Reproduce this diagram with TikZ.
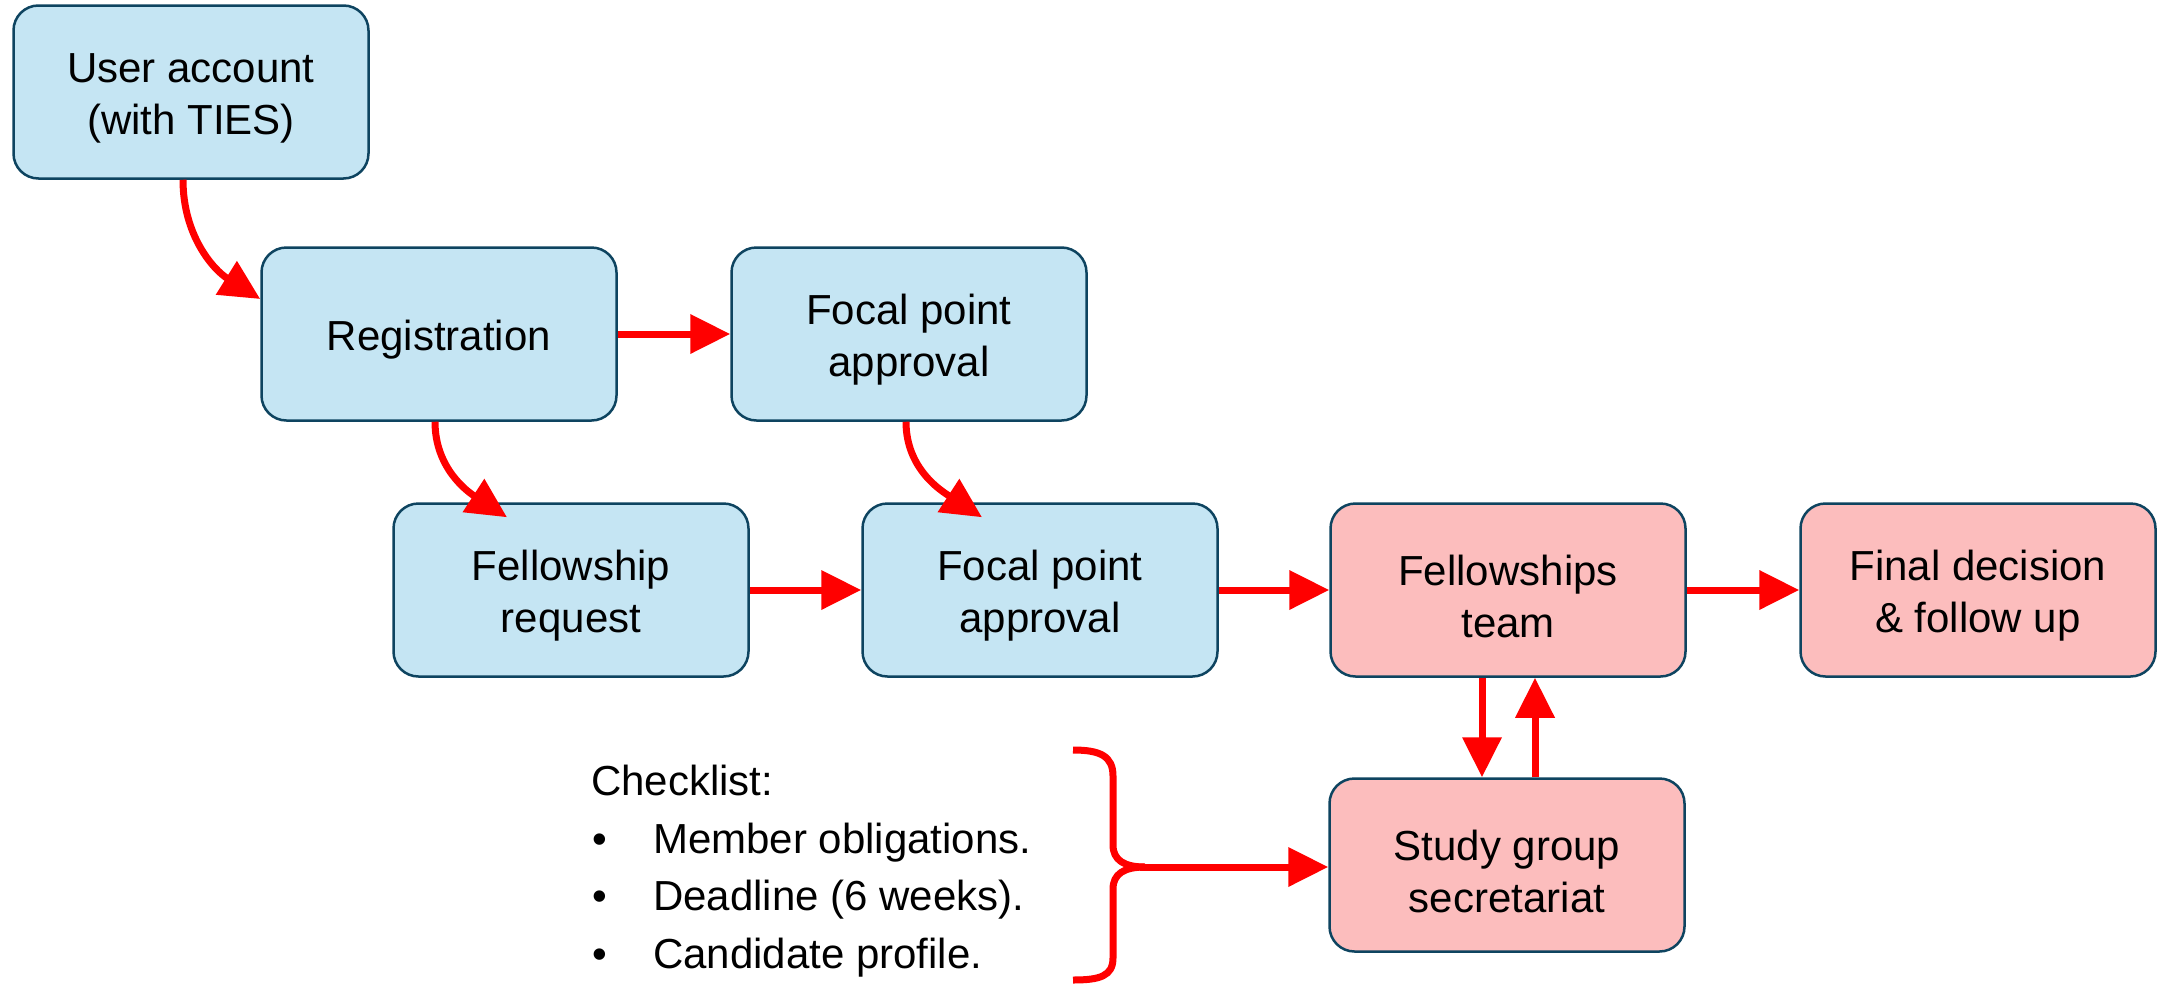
\documentclass[tikz,border=0pt]{standalone}
\usepackage{fontspec}
\setmainfont{Liberation Sans}
\usetikzlibrary{arrows.meta}
\definecolor{boxblue}{HTML}{C5E5F3}
\definecolor{boxpink}{HTML}{FCBDBD}
\definecolor{boxedge}{HTML}{0E4460}
\definecolor{arrred}{HTML}{FF0000}
\begin{document}
\begin{tikzpicture}[x=1pt,y=1pt,
  box/.style={draw=boxedge, line width=2.5pt, rounded corners=25pt,
    minimum width=355pt, minimum height=173pt, inner sep=0pt},
  boxtext/.style={font=\fontsize{42}{52}\selectfont, align=center, inner sep=0pt, yshift=-6pt},
  bluebox/.style={box, fill=boxblue},
  pinkbox/.style={box, fill=boxpink},
  flow/.style={draw=arrred, line width=7pt, -{Triangle[length=40pt,width=38pt]}},
  bracestyle/.style={draw=arrred, line width=7pt},
  lst/.style={font=\fontsize{42}{52}\selectfont, inner sep=0pt}
]
\useasboundingbox (0,0) rectangle (2157,-983);

\node[bluebox, label={[boxtext]center:{User account\\(with TIES)}}] (ua)   at (191,-92)  {};
\node[bluebox, label={[boxtext]center:{Registration}}] (reg)  at (439,-334) {};
\node[bluebox, label={[boxtext]center:{Focal point\\approval}}] (fpa1) at (909,-334) {};
\node[bluebox, label={[boxtext]center:{Fellowship\\request}}] (freq) at (571,-590) {};
\node[bluebox, label={[boxtext]center:{Focal point\\approval}}] (fpa2) at (1040,-590) {};
\node[pinkbox, label={[boxtext]center:{Fellowships\\team}}] (ft)   at (1508,-590) {};
\node[pinkbox, label={[boxtext]center:{Final decision\\\& follow up}}] (fd)   at (1978,-590) {};
\node[pinkbox, label={[boxtext]center:{Study group\\secretariat}}] (sg)   at (1507,-865) {};

\draw[flow] ([xshift=-8pt]ua.south) to[out=-90,in=148] ([yshift=35pt]reg.west);
\draw[flow] ([xshift=-4pt]reg.south) to[out=-90,in=147] ([shift={(-64pt,-15pt)}]freq.north);
\draw[flow] ([xshift=-3pt]fpa1.south) to[out=-90,in=147] ([shift={(-58pt,-15pt)}]fpa2.north);

\draw[flow] (reg.east) -- (fpa1.west);
\draw[flow] (freq.east) -- (fpa2.west);
\draw[flow] (fpa2.east) -- (ft.west);
\draw[flow] (ft.east) -- (fd.west);
\draw[flow] ([xshift=-26pt]ft.south) -- ([xshift=-25pt]sg.north);
\draw[flow] ([xshift=28pt]sg.north) -- ([xshift=27pt]ft.south);

\node[lst, anchor=base west] (cl) at (591,-795) {Checklist:};
\node[lst, anchor=base] (b1) at (600,-853) {•};
\node[lst, anchor=base west] (i1) at (653,-853) {Member obligations.};
\node[lst, anchor=base] (b2) at (600,-910) {•};
\node[lst, anchor=base west] (i2) at (653,-910) {Deadline (6 weeks).};
\node[lst, anchor=base] (b3) at (600,-968) {•};
\node[lst, anchor=base west] (i3) at (653,-968) {Candidate profile.};

\draw[bracestyle] (1073,-750) .. controls (1100,-750) and (1113,-756) .. (1113,-776)
  -- (1113,-845) .. controls (1113,-860) and (1124,-867) .. (1145,-867);
\draw[bracestyle] (1145,-867) .. controls (1124,-867) and (1113,-874) .. (1113,-889)
  -- (1113,-958) .. controls (1113,-976) and (1100,-980) .. (1073,-980);
\coordinate (bt) at (1140,-867);
\draw[flow] (bt) -- (bt -| sg.west);
\end{tikzpicture}
\end{document}
